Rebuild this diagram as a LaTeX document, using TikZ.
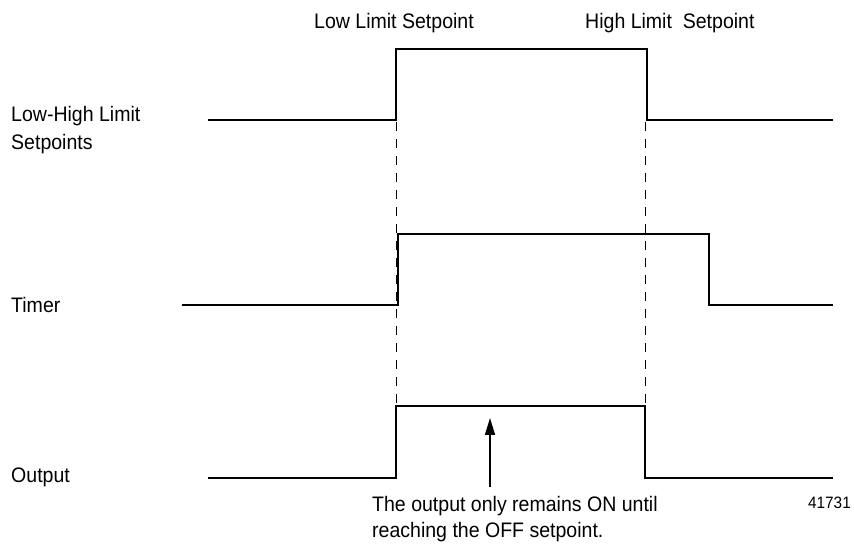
\documentclass[tikz,border=0pt]{standalone}
\usepackage{fontspec}
\setmainfont{Liberation Sans}[FakeStretch=0.93]
\usetikzlibrary{positioning, arrows.meta}

\begin{document}
\begin{tikzpicture}[x=1pt, y=1pt,
      signal/.style={line width=1.2pt, line join=miter},
      repere/.style={line width=0.9pt, dash pattern=on 9pt off 8pt},
      etiquette/.style={inner sep=0pt, font=\fontsize{21}{28.5}\selectfont},
      renvoi/.style={inner sep=0pt, font=\fontsize{16.5}{20}\selectfont},
      fleche/.style={-{Triangle[length=17pt, width=10pt]}, line width=1.6pt}]
    \useasboundingbox (0,0) rectangle (854,545);
    % libelles du haut
    \node[etiquette, anchor=base west] (bas)  at (314,516) {Low Limit Setpoint};
    \node[etiquette, anchor=base west] (haut) at (585,516) {High Limit\ \ Setpoint};
    % libelles des voies
    \node[etiquette, anchor=base west, align=left] (consigne) at (11,395)
          {Low-High Limit\\Setpoints};
    \node[etiquette, anchor=base west] (tempo)  at (11,232.3) {Timer};
    \node[etiquette, anchor=base west] (sortie) at (11,62) {Output};
    % chronogrammes
    \draw[signal] (208,425) -- (396,425) -- (396,496) -- (647,496)
                  -- (647,425) -- (833,425);
    \draw[signal] (182,240) -- (398,240) -- (398,311) -- (709,311)
                  -- (709,240) -- (833,240);
    \draw[signal] (208,67) -- (396,67) -- (396,139) -- (645,139)
                  -- (645,67) -- (833,67);
    % reperes verticaux
    \draw[repere] (396,423) -- (396,105);
    \draw[repere] (645,423) -- (645,105);
    % note
    \node[etiquette, anchor=base west, align=left,
          font=\fontsize{21}{26.5}\selectfont] (note) at (372,7)
          {The output only remains ON until\\reaching the OFF setpoint.};
    \coordinate (pointe) at (490,127);
    \draw[fleche] (note.north -| pointe) ++(0,9) -- (pointe);
    \node[renvoi, anchor=base east] (num) at (851,36.7) {41731};
\end{tikzpicture}
\end{document}
